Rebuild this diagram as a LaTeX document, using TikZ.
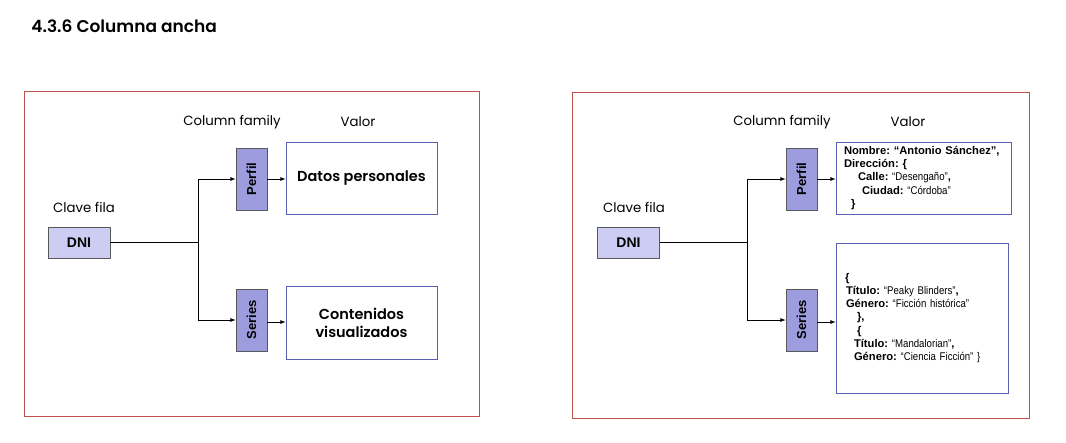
\documentclass[tikz,border=0pt]{standalone}
\usepackage{fontspec}
\setmainfont{Liberation Sans}
\newfontfamily\gothic{Poppins}[BoldFont={Poppins SemiBold}]
\newfontfamily\narrow[FakeStretch=0.86]{Liberation Sans}
\usetikzlibrary{arrows,scopes}
\definecolor{marco}{HTML}{C0504D}
\definecolor{lila}{HTML}{9C9CDE}
\definecolor{lilaclaro}{HTML}{CDCDF3}
\definecolor{azul}{HTML}{5A5EB4}
\newcommand{\val}[1]{{\narrow\mdseries #1}}
\frenchspacing
\tikzset{
  >= latex,
  fr/.style={draw=marco, line width=0.9pt},
  lb/.style={font=\gothic\fontsize{13.3}{15}\selectfont, inner sep=0pt},
  key/.style={rectangle, draw=black!65, fill=lilaclaro, minimum width=62pt, minimum height=31pt,
    inner sep=0pt, font=\bfseries\fontsize{14}{16}\selectfont},
  cf/.style={rectangle, draw=black!65, fill=lila, minimum width=62pt, minimum height=31pt,
    inner sep=0pt, rotate=90, font=\bfseries\fontsize{13}{15}\selectfont},
  vb/.style={rectangle, draw=azul, line width=0.8pt, inner sep=0pt, align=center,
    font=\gothic\bfseries\fontsize{14.5}{18}\selectfont},
  vt/.style={rectangle, draw=azul, line width=0.8pt, align=left, inner ysep=0pt,
    font=\bfseries\fontsize{11.2}{13.3}\selectfont}
}
\begin{document}
\begin{tikzpicture}[x=1pt, y=-1pt, line width=0.8pt]
  \useasboundingbox (0,0) rectangle (1066,442);
  \node[font=\gothic\bfseries\fontsize{17}{20}\selectfont, anchor=west, inner sep=0pt]
    (titulo) at (31,26) {4.3.6 Columna ancha};

  % panel izquierdo
  \begin{scope}
    \draw[fr] (24,91) rectangle (479,416);
    \node[lb] (cfam) at (232,122) {Column family};
    \node[lb] (valor) at (358,122) {Valor};
    \node[lb] (clave) at (84,207) {Clave fila};
    \node[key] (dni) at (79,242.5) {DNI};
    \node[cf] (perfil) at (251.5,179) {Perfil};
    \node[cf] (series) at (251.5,320) {Series};
    \node[vb, minimum width=151pt, minimum height=72pt] (datos) at (361.5,178) {Datos personales};
    \node[vb, minimum width=151pt, minimum height=73pt] (cont) at (361.5,322.5)
      {Contenidos\\visualizados};
    \coordinate (j) at (198,242.5);
    \draw (dni) -- (j);
    {[->]
    \draw (j) |- (perfil);
    \draw (j) |- (series);
    \draw (perfil.south) -- (perfil.south -| datos.west);
    \draw ([yshift=-2pt]series.south) -- ([yshift=-2pt]series.south -| cont.west);
    }
  \end{scope}

  % panel derecho
  \begin{scope}[xshift=549pt]
    \draw[fr] (23,92) rectangle (480,418);
    \node[lb] (cfamb) at (233,122) {Column family};
    \node[lb] (valorb) at (359,122) {Valor};
    \node[lb] (claveb) at (85,207) {Clave fila};
    \node[key] (dnib) at (79.5,242.5) {DNI};
    \node[cf] (perfilb) at (252.5,179) {Perfil};
    \node[cf] (seriesb) at (252.5,320) {Series};
    \node[vt, text width=159pt, inner xsep=8pt, minimum height=72pt] (datosb) at (374.5,178)
      {Nombre: “Antonio Sánchez”,\\
       Dirección: \{\\
       \hspace*{14pt}Calle: \val{“Desengaño”},\\
       \hspace*{18pt}Ciudad: \val{“Córdoba”}\\
       \hspace*{7pt}\}};
    \node[vt, text width=154pt, inner xsep=9pt, minimum height=150pt] (contb) at (373,318)
      {\{\\
       \hspace*{1pt}Título: \val{“Peaky Blinders”},\\
       \hspace*{1pt}Género: \val{“Ficción histórica”}\\
       \hspace*{12pt}\},\\
       \hspace*{12pt}\{\\
       \hspace*{9pt}Título: \val{“Mandalorian”},\\
       \hspace*{9pt}Género: \val{“Ciencia Ficción” \}}};
    \coordinate (jb) at (198,242.5);
    \draw (dnib) -- (jb);
    {[->]
    \draw (jb) |- (perfilb);
    \draw (jb) |- (seriesb);
    \draw (perfilb.south) -- (perfilb.south -| datosb.west);
    \draw ([yshift=-2pt]seriesb.south) -- ([yshift=-2pt]seriesb.south -| contb.west);
    }
  \end{scope}
\end{tikzpicture}
\end{document}
